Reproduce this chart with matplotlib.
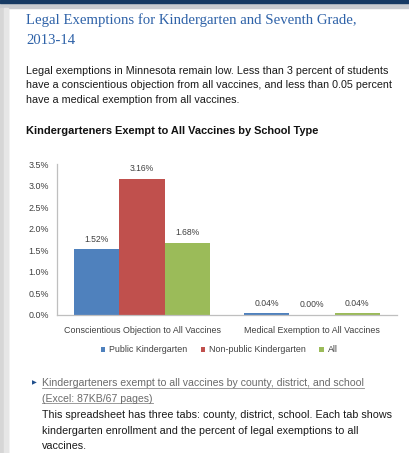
import matplotlib.pyplot as plt
from matplotlib.patches import Rectangle
from matplotlib.lines import Line2D

# chart data
categories = ['Conscientious Objection to All Vaccines', 'Medical Exemption to All Vaccines']
series = ['Public Kindergarten', 'Non-public Kindergarten', 'All']
public_k = [1.52, 0.04]
nonpublic_k = [3.16, 0.00]
all_k = [1.68, 0.04]
colors = ['#4F81BD', '#C0504D', '#9BBB59']
yticks = [0.0, 0.5, 1.0, 1.5, 2.0, 2.5, 3.0, 3.5]

W, H = 409, 453
fig = plt.figure(figsize=(W / 100, H / 100), dpi=100)
fig.patch.set_facecolor('white')

def fx(px):
    return px / W

def fy(py):
    return 1 - py / H

# page frame: navy bar on top, grey shadow down the left side
fig.add_artist(Rectangle((0, fy(8)), 1, 8 / H, transform=fig.transFigure, color='#c9ccd0', zorder=0))
fig.add_artist(Rectangle((0, fy(3)), 1, 3 / H, transform=fig.transFigure, color='#163a63', zorder=1))
fig.add_artist(Rectangle((0, 0), fx(8), fy(8), transform=fig.transFigure, color='#d6d6d6', zorder=0))
fig.add_artist(Rectangle((fx(4), 0), fx(4), fy(8), transform=fig.transFigure, color='#e6e6e6', zorder=0))

# heading and paragraph
title_kw = dict(family='Liberation Serif', fontsize=10.6, color='#2E62A8', va='center')
fig.text(fx(26), fy(20), 'Legal Exemptions for Kindergarten and Seventh Grade,', **title_kw)
fig.text(fx(26), fy(40), '2013-14', **title_kw)

body_kw = dict(family='Liberation Sans', fontsize=7.75, color='#1a1a1a', va='center')
para = ['Legal exemptions in Minnesota remain low. Less than 3 percent of students',
        'have a conscientious objection from all vaccines, and less than 0.05 percent',
        'have a medical exemption from all vaccines.']
for i, line in enumerate(para):
    fig.text(fx(26), fy(71 + 14.3 * i), line, **body_kw)

fig.text(fx(26), fy(131), 'Kindergarteners Exempt to All Vaccines by School Type',
         family='Liberation Sans', fontsize=7.9, fontweight='bold', color='#111111', va='center')

# the bar chart
ax = fig.add_axes([fx(57), fy(315), fx(397) - fx(57), (315 - 164) / H])
width = 0.266
x = range(len(categories))
for j, (vals, name) in enumerate(zip([public_k, nonpublic_k, all_k], series)):
    pos = [i + (j - 1) * width for i in x]
    ax.bar(pos, vals, width, color=colors[j], label=name, zorder=2)
    for p, v in zip(pos, vals):
        ax.text(p, v + 0.13, f'{v:.2f}%', ha='center', va='bottom',
                fontsize=6.2, color='#404040', family='Liberation Sans')

ax.set_xlim(-0.5, 1.5)
ax.set_ylim(0, 3.5)
ax.set_yticks(yticks)
ax.set_yticklabels([f'{t:.1f}%' for t in yticks], fontsize=6.4, color='#404040', family='Liberation Sans')
ax.set_xticks(list(x))
ax.set_xticklabels(categories, fontsize=6.4, color='#404040', family='Liberation Sans')
ax.tick_params(length=0)
ax.tick_params(axis='y', pad=6)
ax.tick_params(axis='x', pad=8)
for s in ['top', 'right']:
    ax.spines[s].set_visible(False)
for s in ['left', 'bottom']:
    ax.spines[s].set_color('#bfbfbf')
    ax.spines[s].set_linewidth(0.9)

leg = ax.legend(loc='center', bbox_to_anchor=(fx(219), fy(350)), bbox_transform=fig.transFigure,
                ncol=3, frameon=False, handlelength=0.55, handleheight=0.55,
                columnspacing=1.5, handletextpad=0.4,
                prop={'family': 'Liberation Sans', 'size': 6.4})
for t in leg.get_texts():
    t.set_color('#404040')

# download link and description below the chart
fig.text(fx(32), fy(383), '\u25B6', fontsize=4.5, color='#1f4e8c', va='center', family='DejaVu Sans')
link_kw = dict(family='Liberation Sans', fontsize=7.55, color='#6b6b6b', va='center')
links = ['Kindergarteners exempt to all vaccines by county, district, and school',
         '(Excel: 87KB/67 pages)']
link_texts = [fig.text(fx(42), fy(383 + 15.8 * i), line, **link_kw) for i, line in enumerate(links)]
desc = ['This spreadsheet has three tabs: county, district, school. Each tab shows',
        'kindergarten enrollment and the percent of legal exemptions to all',
        'vaccines.']
for i, line in enumerate(desc):
    fig.text(fx(42), fy(415 + 15.5 * i), line, **body_kw)

# underline the link lines
fig.canvas.draw()
r = fig.canvas.get_renderer()
for t in link_texts:
    bb = t.get_window_extent(r)
    yl = (bb.y0 + 0.5) / H
    fig.add_artist(Line2D([bb.x0 / W, bb.x1 / W], [yl, yl], transform=fig.transFigure,
                          color='#8a8a8a', lw=0.6))

fig.savefig('out.png', dpi=100, facecolor='white')
